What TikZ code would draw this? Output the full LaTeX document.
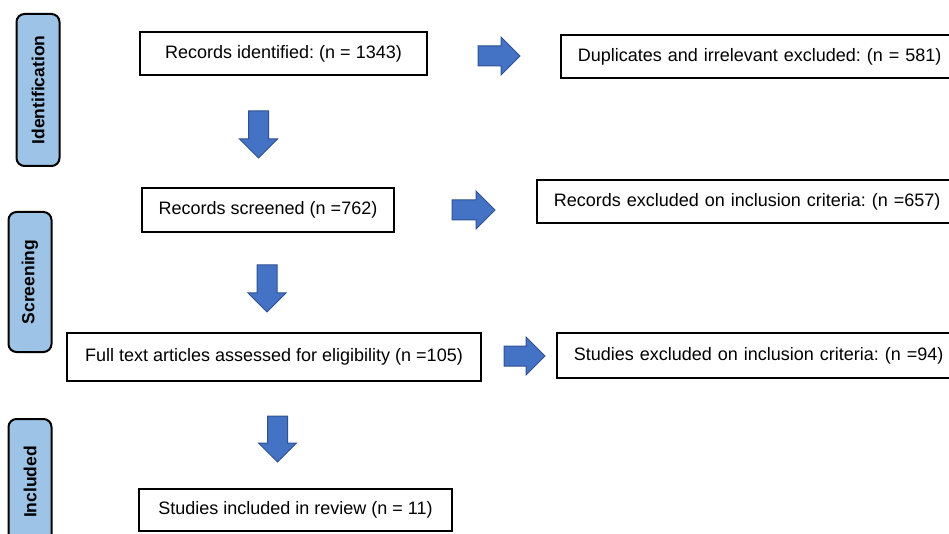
\documentclass[tikz,border=0pt]{standalone}
\usepackage{fontspec}
\setmainfont{Liberation Sans}
\usetikzlibrary{shapes.arrows}
\frenchspacing
\definecolor{stageblue}{RGB}{157,195,230}
\definecolor{arrowfill}{RGB}{68,114,196}
\definecolor{arrowline}{RGB}{47,82,143}
\tikzset{
  box/.style={draw=black,line width=1.5pt,fill=white,inner sep=0pt,
    font=\fontsize{18}{21}\selectfont},
  rbox/.style={box,anchor=west,text width=420pt,align=left,inner xsep=17pt},
  stage/.style={draw=black,line width=2pt,fill=stageblue,rounded corners=8pt,
    rotate=90,minimum height=43pt,inner sep=0pt,
    font=\bfseries\fontsize{17.5}{20}\selectfont},
  flow/.style={single arrow,draw=arrowline,fill=arrowfill,line width=1pt,
    inner xsep=0pt,inner ysep=9.5pt,single arrow head extend=9pt},
}
\begin{document}
\begin{tikzpicture}[x=1pt,y=-1pt]
\useasboundingbox (0,0) rectangle (949,534);
\clip (0,0) rectangle (949,534);
% stages
\node[stage,minimum width=152pt] (identification) at (38,90) {Identification};
\node[stage,minimum width=140pt] (screening) at (30,282) {Screening};
\node[stage,minimum width=126pt] (included) at (30,482) {Included};
% main column
\node[box,minimum width=287pt,minimum height=43pt] (identified) at (283.5,53.5) {Records identified: (n = 1343)};
\node[box,minimum width=252pt,minimum height=44pt] (screened) at (268,210) {Records screened (n =762)};
\node[box,minimum width=414pt,minimum height=48pt] (fulltext) at (274,357) {Full text articles assessed for eligibility (n =105)};
\node[box,minimum width=313pt,minimum height=42pt] (review) at (295.5,510) {Studies included in review (n = 11)};
% exclusions
\node[rbox,minimum height=43pt] (duplicates) at (560,56.5) {Duplicates and irrelevant excluded: (n = 581)};
\node[rbox,minimum height=43pt] (excludedrec) at (536,201.5) {Records excluded on inclusion criteria: (n =657)};
\node[rbox,minimum height=45pt] (excludedstu) at (556,355.5) {Studies excluded on inclusion criteria: (n =94)};
% block arrows
\node[flow,minimum height=42pt] (right1) at (494,56) {};
\node[flow,minimum height=43pt] (right2) at (468.5,210) {};
\node[flow,minimum height=41pt] (right3) at (519.5,356) {};
\node[flow,minimum height=47pt,rotate=-90] (down1) at (258.5,129.5) {};
\node[flow,minimum height=47pt,rotate=-90] (down2) at (267,283.5) {};
\node[flow,minimum height=46pt,rotate=-90] (down3) at (277.5,434) {};
\end{tikzpicture}
\end{document}
